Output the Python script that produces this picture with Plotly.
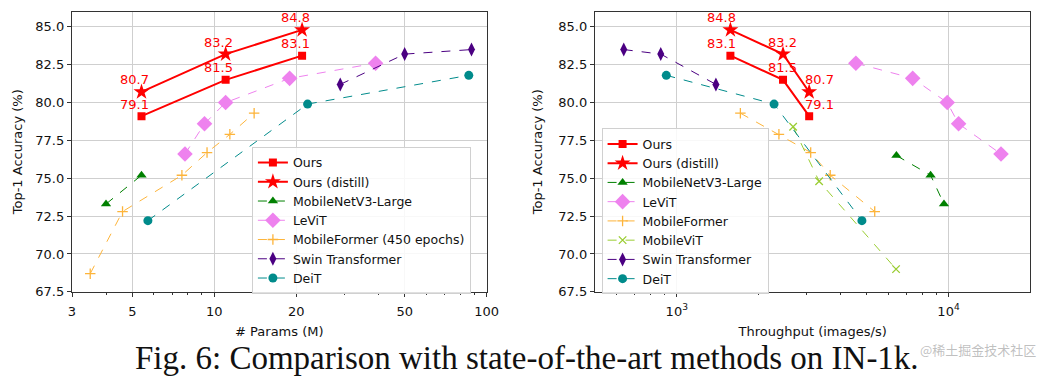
import math
import plotly.graph_objects as go

# ---------------- data ----------------
# Left panel: params (M) vs top-1
ours_params = [5.4, 11.0, 21.0]
ours_acc = [79.1, 81.5, 83.1]
ours_distill_acc = [80.7, 83.2, 84.8]
mnv3_params = [4.0, 5.4]
mnv3_acc = [73.3, 75.2]
levit_params = [7.8, 9.2, 11.0, 18.9, 39.1]
levit_acc = [76.6, 78.6, 80.0, 81.6, 82.6]
mformer_params = [3.5, 4.6, 7.6, 9.4, 11.4, 14.0]
mformer_acc = [68.7, 72.8, 75.2, 76.7, 77.9, 79.3]
swin_params = [29, 50, 88]
swin_acc = [81.2, 83.2, 83.5]
deit_params = [5.7, 22, 86]
deit_acc = [72.2, 79.9, 81.8]

# Right panel: throughput (images/s) vs top-1 (same order as ours_acc)
ours_tp = [3070, 2460, 1575]
mnv3_tp = [6430, 8590, 9620]
mnv3_tp_acc = [76.5, 75.2, 73.3]
levit_tp = [4560, 7380, 9890, 10890, 15600]
levit_tp_acc = [82.6, 81.6, 80.0, 78.6, 76.6]
mformer_tp = [1714, 2376, 3110, 3670, 5350]
mformer_tp_acc = [79.3, 77.9, 76.7, 75.2, 72.8]
mvit_tp = [2680, 3340, 6410]
mvit_tp_acc = [78.4, 74.8, 69.0]
swin_tp = [638, 873, 1393]
swin_tp_acc = [83.5, 83.2, 81.2]
deit_tp = [915, 2280, 4800]
deit_tp_acc = [81.8, 79.9, 72.2]

y_ticks = [67.5, 70.0, 72.5, 75.0, 77.5, 80.0, 82.5, 85.0]
x1_ticks = [3, 5, 10, 20, 50, 100]
x2_ticks = [1000, 10000]
x2_ticktext = ["10<sup>3</sup>", "10<sup>4</sup>"]

caption = "Fig. 6: Comparison with state-of-the-art methods on IN-1k."
watermark = "@稀土掘金技术社区"

# ---------------- styles ----------------
RED = "#ff0000"
GREEN = "#008000"
VIOLET = "#ee82ee"
ORANGE = "#fdb43a"
YGREEN = "#9acd32"
INDIGO = "#4b0082"
TEAL = "#008b8b"
FONT = "DejaVu Sans"
FS = 13
LFS = 12.5

fig = go.Figure()


def add(x, y, name, color, symbol, size, xa, ya, legend, solid=False, lw=1.0, mline=0):
    fig.add_trace(go.Scatter(
        x=x, y=y, name=name, mode="lines+markers",
        line=dict(color=color, width=2 if solid else lw, dash="solid" if solid else "dash"),
        marker=dict(color=color, symbol=symbol, size=size,
                    line=dict(color=color, width=mline)),
        xaxis=xa, yaxis=ya, legend=legend,
    ))


# left
add(ours_params, ours_acc, "Ours", RED, "square", 8, "x", "y", "legend", solid=True)
add(ours_params, ours_distill_acc, "Ours (distill)", RED, "star", 12, "x", "y", "legend", solid=True)
add(mnv3_params, mnv3_acc, "MobileNetV3-Large", GREEN, "triangle-up", 9, "x", "y", "legend")
add(levit_params, levit_acc, "LeViT", VIOLET, "diamond", 12, "x", "y", "legend")
add(mformer_params, mformer_acc, "MobileFormer (450 epochs)", ORANGE, "cross-thin", 7.5, "x", "y", "legend", mline=1.3)
add(swin_params, swin_acc, "Swin Transformer", INDIGO, "diamond-tall", 10, "x", "y", "legend")
add(deit_params, deit_acc, "DeiT", TEAL, "circle", 9, "x", "y", "legend")

# right
add(ours_tp, ours_acc, "Ours", RED, "square", 8, "x2", "y2", "legend2", solid=True)
add(ours_tp, ours_distill_acc, "Ours (distill)", RED, "star", 12, "x2", "y2", "legend2", solid=True)
add(mnv3_tp, mnv3_tp_acc, "MobileNetV3-Large", GREEN, "triangle-up", 9, "x2", "y2", "legend2")
add(levit_tp, levit_tp_acc, "LeViT", VIOLET, "diamond", 12, "x2", "y2", "legend2")
add(mformer_tp, mformer_tp_acc, "MobileFormer", ORANGE, "cross-thin", 7.5, "x2", "y2", "legend2", mline=1.3)
add(mvit_tp, mvit_tp_acc, "MobileViT", YGREEN, "x-thin", 7.5, "x2", "y2", "legend2", mline=1.3)
add(swin_tp, swin_tp_acc, "Swin Transformer", INDIGO, "diamond-tall", 10, "x2", "y2", "legend2")
add(deit_tp, deit_tp_acc, "DeiT", TEAL, "circle", 9, "x2", "y2", "legend2")

# value labels
left_shift = [-7, -7, -7]
right_shift = [10, -1, -9]
for xs, ref, shifts in [(ours_params, ("x", "y"), left_shift), (ours_tp, ("x2", "y2"), right_shift)]:
    for accs in (ours_acc, ours_distill_acc):
        for xv, yv, sh in zip(xs, accs, shifts):
            fig.add_annotation(x=math.log10(xv), y=yv, xref=ref[0], yref=ref[1],
                               text=f"{yv:.1f}", showarrow=False, xshift=sh, yshift=12,
                               font=dict(family=FONT, size=FS, color=RED))

axis_common = dict(showline=True, linecolor="#333333", linewidth=1.2, mirror=True,
                   ticks="outside", ticklen=4, tickcolor="#333333",
                   showgrid=True, gridcolor="#cfcfcf", gridwidth=1, zeroline=False,
                   tickfont=dict(family=FONT, size=FS, color="#111"))
title_font = dict(family=FONT, size=FS, color="#111")
legend_common = dict(xanchor="left", yanchor="top",
                     bgcolor="rgba(255,255,255,0.85)", bordercolor="#d0d0d0", borderwidth=1,
                     font=dict(family=FONT, size=LFS), tracegroupgap=0, itemwidth=30)

fig.update_layout(
    width=1062, height=386, margin=dict(l=0, r=0, t=0, b=0),
    paper_bgcolor="white", plot_bgcolor="white",
    font=dict(family=FONT, size=FS, color="#111"),
    xaxis=dict(type="log", range=[0.4771, 2.0], domain=[0.065, 0.4614], anchor="y",
               tickvals=x1_ticks, ticktext=[str(v) for v in x1_ticks], ticklabelstandoff=3,
               minor=dict(tickmode="array", tickvals=[4, 6, 7, 8, 9, 30, 40, 60, 70, 80, 90],
                          ticks="outside", ticklen=2.5, tickcolor="#333", showgrid=False),
               title=dict(text="# Params (M)", font=title_font, standoff=9),
               **axis_common),
    yaxis=dict(range=[67.5, 86.0], domain=[0.228, 0.969], anchor="x",
               tickvals=y_ticks, ticktext=[f"{v:.1f}" for v in y_ticks],
               title=dict(text="Top-1 Accuracy (%)", font=title_font, standoff=9),
               **axis_common),
    xaxis2=dict(type="log", range=[2.699, 4.301], domain=[0.565, 0.9812], anchor="y2",
                tickvals=x2_ticks, ticktext=x2_ticktext, ticklabelstandoff=3,
                minor=dict(tickmode="array",
                           tickvals=[600, 700, 800, 900, 2000, 3000, 4000, 5000, 6000, 7000, 8000, 9000],
                           ticks="outside", ticklen=2.5, tickcolor="#333", showgrid=False),
                title=dict(text="Throughput (images/s)", font=title_font, standoff=9),
                **axis_common),
    yaxis2=dict(range=[67.5, 86.0], domain=[0.228, 0.969], anchor="x2",
                tickvals=y_ticks, ticktext=[f"{v:.1f}" for v in y_ticks],
                title=dict(text="Top-1 Accuracy (%)", font=title_font, standoff=12),
                **axis_common),
    legend=dict(x=0.237, y=1 - 150 / 386, **legend_common),
    legend2=dict(x=0.5713, y=1 - 131 / 386, **legend_common),
)

fig.add_annotation(x=0.5, y=1 - 366 / 386, xref="paper", yref="paper", text=caption,
                   showarrow=False, yanchor="middle",
                   font=dict(family="Liberation Serif", size=33, color="#111"))
fig.add_annotation(x=1050 / 1062, y=1 - 357 / 386, xref="paper", yref="paper", text=watermark,
                   showarrow=False, xanchor="right", yanchor="middle",
                   font=dict(family="Noto Sans CJK SC", size=13, color="rgba(150,150,150,0.6)"))

fig.write_html("out.html", config={"displayModeBar": False},
               post_script="document.body.style.margin='0px';")
